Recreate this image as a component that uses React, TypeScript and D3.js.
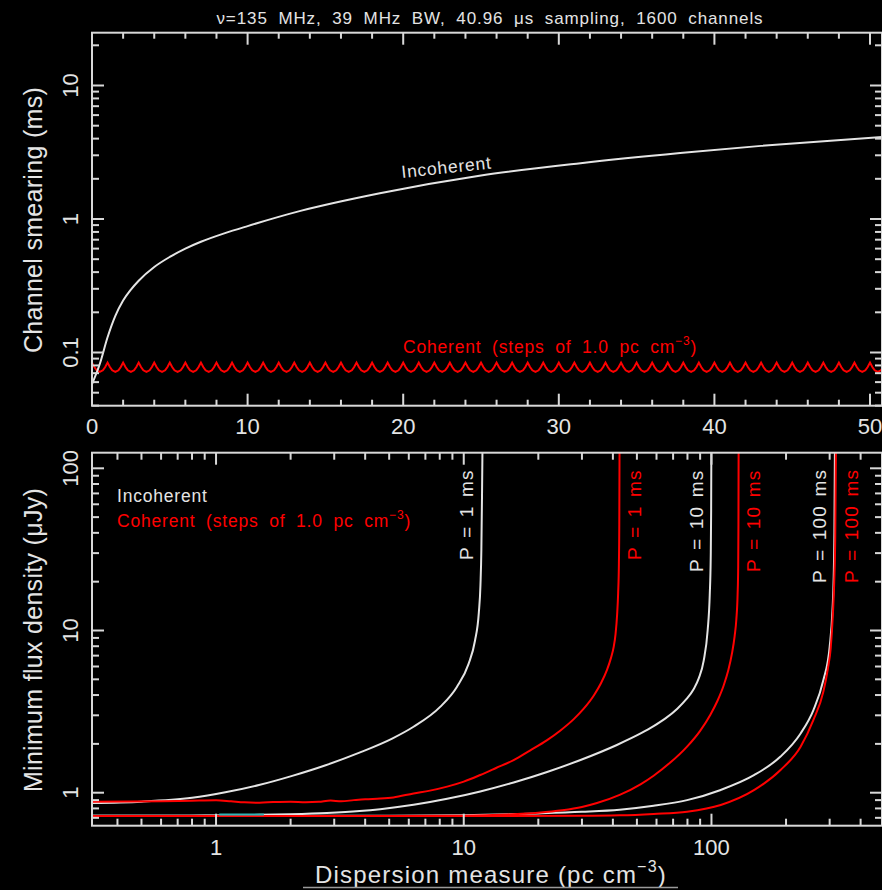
import React from 'react';
import * as d3 from 'd3';

const W = 882;
const H = 890;

// ---------- Top panel: channel smearing vs DM ----------
const topIncDM = [0, 0.5, 1, 1.5, 2, 2.5, 3, 4, 5, 6, 7, 8.5, 10, 13.4, 18.5, 25, 31.4, 37.8, 43, 50.8];
const topIncMs = [0.058, 0.082, 0.13, 0.188, 0.245, 0.296, 0.345, 0.437, 0.52, 0.6, 0.675, 0.78, 0.885, 1.15, 1.56, 2.12, 2.62, 3.12, 3.53, 4.12];
// coherent: one DM step of 1.0 pc cm^-3, repeated over the trial DMs
const cohStepStarts = [0,1,2,3,4,5,6,7,8,9,10,11,12,13,14,15,16,17,18,19,20,21,22,23,24,25,26,27,28,29,30,31,32,33,34,35,36,37,38,39,40,41,42,43,44,45,46,47,48,49,50];
const cohStepOffsets = [0, 0.15, 0.3, 0.5, 0.7, 0.85];
const cohStepMs = [0.084, 0.0779, 0.0736, 0.0715, 0.0736, 0.0779];
const topXTicks = [0, 10, 20, 30, 40, 50];
const topYTicks = [0.1, 1, 10];
const topYLabels = ['0.1', '1', '10'];

// ---------- Bottom panel: minimum flux density vs DM ----------
const wP1DM = [0.3157, 0.5, 0.8, 1.09, 1.49, 2.03, 2.77, 3.77, 5.14, 6.27, 8.03, 9.38, 10.45, 11.1, 11.5, 11.68, 11.78, 11.85, 11.9];
const wP1S = [0.865, 0.881, 0.93, 1.005, 1.115, 1.27, 1.477, 1.76, 2.156, 2.55, 3.38, 4.49, 6.2, 8.65, 12.8, 19.1, 31.8, 68, 130];
const rP1DM = [0.3157, 0.45, 0.6, 0.8, 1.0, 1.15, 1.3, 1.5, 1.7, 2.0, 2.3, 2.6, 2.9, 3.2, 3.6, 4.0, 4.6, 5.2, 6.27, 7.3, 8.57, 10, 11.66, 13.5, 15.9, 18.5, 21.7, 24.5, 27.8, 30.5, 33.5, 35.8, 37.9, 39.3, 40.3, 41.0, 41.6, 42.0, 42.3, 42.45, 42.55];
const rP1S = [0.88, 0.882, 0.885, 0.893, 0.898, 0.885, 0.872, 0.868, 0.875, 0.88, 0.872, 0.878, 0.895, 0.885, 0.9, 0.912, 0.92, 0.935, 0.99, 1.03, 1.09, 1.17, 1.286, 1.42, 1.59, 1.82, 2.11, 2.412, 2.842, 3.296, 3.976, 4.727, 5.735, 6.78, 7.92, 9.5, 12.5, 17, 26, 45, 130];
const wP10DM = [0.3157, 0.7, 1.0, 1.5, 2.0, 2.8, 3.8, 4.6, 6.27, 8.57, 11.66, 15.9, 21.7, 29.6, 41.5, 52, 58.4, 65, 72.8, 79, 84.7, 89, 93, 96.5, 98.4, 99.3, 99.7, 99.9];
const wP10S = [0.72, 0.72, 0.724, 0.73, 0.737, 0.75, 0.771, 0.792, 0.842, 0.917, 1.018, 1.156, 1.342, 1.591, 1.969, 2.326, 2.571, 2.861, 3.297, 3.758, 4.35, 5.1, 6.5, 10, 16.5, 28, 55, 130];
const rP10DM = [0.3157, 2, 5, 10, 15, 20, 25, 30, 34.5, 42.6, 51.9, 58.4, 68, 79.7, 90, 99, 106, 112, 117, 121, 124, 126, 127.5, 128.2, 128.5, 128.7];
const rP10S = [0.718, 0.718, 0.719, 0.722, 0.734, 0.753, 0.78, 0.817, 0.864, 0.97, 1.131, 1.273, 1.528, 1.924, 2.408, 3.028, 3.717, 4.58, 5.7, 7.22, 9.21, 11.7, 16.7, 24.6, 45, 130];
const wP100DM = [0.3157, 5, 10, 20, 30, 42.6, 58.4, 79.7, 109, 149, 190, 229, 258, 283, 300, 308, 311.5, 313.5, 315];
const wP100S = [0.72, 0.721, 0.726, 0.745, 0.762, 0.785, 0.83, 0.9, 1.04, 1.286, 1.67, 2.32, 3.23, 4.95, 7.93, 13.4, 21.5, 40, 130];
const rP100DM = [0.3157, 10, 30, 42.6, 58.4, 79.7, 109, 149, 190, 229, 258, 283, 295, 303, 309, 313, 316, 318];
const rP100S = [0.718, 0.718, 0.72, 0.725, 0.74, 0.764, 0.84, 1.04, 1.38, 1.92, 2.81, 4.2, 5.8, 7.8, 12.5, 20, 38, 130];
const cyanDM = [1.03, 1.56];
const cyanS = [0.733, 0.735];
const botXTicks = [1, 10, 100];
const botXLabels = ['1', '10', '100'];
const botYTicks = [1, 10, 100];
const botYLabels = ['1', '10', '100'];

const WHITE = '#e4e4e4';
const RED = '#ff0000';
const FONT = '"Liberation Sans", Arial, Helvetica, sans-serif';

const zip = (a: number[], b: number[]) => a.map((v, i) => [v, b[i]] as [number, number]);
const isDecade = (v: number) => Math.abs(Math.log10(v) - Math.round(Math.log10(v))) < 1e-6;

export default function App() {
  const tL = 92, tR = 882, tT = 32.7, tB = 405.7;
  const bL = 92, bR = 882, bT = 452.7, bB = 825.7;

  const xTop = d3.scaleLinear().domain([0, 50.77]).range([tL, tR]);
  const yTop = d3.scaleLog().domain([0.03995, 24.86]).range([tB, tT]);
  const xBot = d3.scaleLog().domain([0.3157, 488]).range([bL, bR]);
  const yBot = d3.scaleLog().domain([0.626, 124.8]).range([bB, bT]);

  const topLine = d3.line<[number, number]>()
    .x(d => xTop(d[0])).y(d => yTop(d[1]))
    .curve(d3.curveMonotoneX);
  const cohPts: [number, number][] = [];
  cohStepStarts.forEach(s => cohStepOffsets.forEach((o, i) => cohPts.push([s + o, cohStepMs[i]])));
  const cohLine = d3.line<[number, number]>().x(d => xTop(d[0])).y(d => yTop(d[1]));

  const botLine = d3.line<[number, number]>()
    .x(d => xBot(d[0])).y(d => yBot(d[1]))
    .curve(d3.curveMonotoneX);

  const MAJ = 12, MIN = 7;
  const ticks: JSX.Element[] = [];
  let k = 0;
  const tk = (x1: number, y1: number, x2: number, y2: number) =>
    ticks.push(<line key={k++} x1={x1} y1={y1} x2={x2} y2={y2} stroke="#d8d8d8" strokeWidth={2} />);

  d3.range(0, 51, 2).forEach(v => {
    const L = v % 10 === 0 ? MAJ : MIN - 1;
    const x = xTop(v);
    tk(x, tB, x, tB - L);
    tk(x, tT, x, tT + L);
  });
  yTop.ticks().forEach(v => {
    const L = isDecade(v) ? MAJ : MIN;
    const y = yTop(v);
    tk(tL, y, tL + L, y);
    tk(tR, y, tR - L, y);
  });
  xBot.ticks().forEach(v => {
    const L = isDecade(v) ? MAJ : MIN;
    const x = xBot(v);
    tk(x, bB, x, bB - L);
    tk(x, bT, x, bT + L);
  });
  yBot.ticks().forEach(v => {
    const L = isDecade(v) ? MAJ : MIN;
    const y = yBot(v);
    tk(bL, y, bL + L, y);
    tk(bR, y, bR - L, y);
  });

  const tickFont = { fontFamily: FONT, fontSize: 22, fill: WHITE } as const;
  const labelFont = { fontFamily: FONT, fontSize: 17.5, letterSpacing: 0.8, wordSpacing: 5 } as const;
  const pFont = { fontFamily: FONT, fontSize: 19, letterSpacing: 1.2, wordSpacing: 2 } as const;

  const pLabels = [
    { x: 473, y: 560, t: 'P = 1 ms', c: WHITE },
    { x: 641, y: 560, t: 'P = 1 ms', c: RED },
    { x: 703, y: 572, t: 'P = 10 ms', c: WHITE },
    { x: 760, y: 572, t: 'P = 10 ms', c: RED },
    { x: 826, y: 583, t: 'P = 100 ms', c: WHITE },
    { x: 858, y: 583, t: 'P = 100 ms', c: RED },
  ];

  return (
    <svg width={W} height={H} style={{ position: 'absolute', left: 0, top: 0, display: 'block' }}>
      <rect x={0} y={0} width={W} height={H} fill="#000" />
      <defs>
        <clipPath id="clipTop"><rect x={tL} y={tT} width={tR - tL} height={tB - tT} /></clipPath>
        <clipPath id="clipBot"><rect x={bL} y={bT} width={bR - bL} height={bB - bT} /></clipPath>
      </defs>

      <text x={490} y={24} textAnchor="middle" fontFamily={FONT} fontSize={17} fill={WHITE}
        letterSpacing={0.9} wordSpacing={5}>ν=135 MHz, 39 MHz BW, 40.96 μs sampling, 1600 channels</text>

      {/* ---------- top panel ---------- */}
      <g clipPath="url(#clipTop)">
        <path d={cohLine(cohPts) || ''} fill="none" stroke={RED} strokeWidth={2} />
        <path d={topLine(zip(topIncDM, topIncMs)) || ''} fill="none" stroke={WHITE} strokeWidth={2} />
      </g>
      <rect x={tL} y={tT} width={tR - tL} height={tB - tT} fill="none" stroke="#d8d8d8" strokeWidth={2} />
      {topXTicks.map(v => (
        <text key={'tx' + v} x={xTop(v)} y={434} textAnchor="middle" {...tickFont}>{v}</text>
      ))}
      {topYTicks.map((v, i) => (
        <text key={'ty' + v} transform={`translate(78,${yTop(v)}) rotate(-90)`} textAnchor="middle" {...tickFont}>{topYLabels[i]}</text>
      ))}
      <text transform="translate(42,220) rotate(-90)" textAnchor="middle" fontFamily={FONT} fontSize={25}
        letterSpacing={0.3} fill={WHITE}>Channel smearing (ms)</text>
      <text transform="translate(402,178) rotate(-6)" {...labelFont} fill={WHITE}>Incoherent</text>
      <text x={403} y={353} {...labelFont} fill={RED}>
        Coherent (steps of 1.0 pc cm<tspan dy={-8} fontSize={12}>−3</tspan><tspan dy={8}>)</tspan>
      </text>

      {/* ---------- bottom panel ---------- */}
      <g clipPath="url(#clipBot)" fill="none" strokeWidth={2}>
        <path d={botLine(zip(wP100DM, wP100S)) || ''} stroke={WHITE} />
        <path d={botLine(zip(wP10DM, wP10S)) || ''} stroke={WHITE} />
        <path d={botLine(zip(wP1DM, wP1S)) || ''} stroke={WHITE} />
        <path d={botLine(zip(rP100DM, rP100S)) || ''} stroke={RED} />
        <path d={botLine(zip(rP10DM, rP10S)) || ''} stroke={RED} />
        <path d={botLine(zip(rP1DM, rP1S)) || ''} stroke={RED} />
        <path d={botLine(zip(cyanDM, cyanS)) || ''} stroke="#2fb7b7" />
      </g>
      <rect x={bL} y={bT} width={bR - bL} height={bB - bT} fill="none" stroke="#d8d8d8" strokeWidth={2} />
      {botXTicks.map((v, i) => (
        <text key={'bx' + v} x={xBot(v)} y={855} textAnchor="middle" {...tickFont}>{botXLabels[i]}</text>
      ))}
      {botYTicks.map((v, i) => (
        <text key={'by' + v} transform={`translate(78,${yBot(v)}) rotate(-90)`} textAnchor="middle" {...tickFont}>{botYLabels[i]}</text>
      ))}
      <text transform="translate(42,640) rotate(-90)" textAnchor="middle" fontFamily={FONT} fontSize={25}
        letterSpacing={0.3} fill={WHITE}>Minimum flux density (μJy)</text>
      <text x={315} y={883} fontFamily={FONT} fontSize={24} letterSpacing={1.2} fill={WHITE}>
        Dispersion measure (pc cm<tspan dy={-11} fontSize={16}>−3</tspan><tspan dy={11}>)</tspan>
      </text>
      <line x1={303} y1={887.5} x2={678} y2={887.5} stroke="#9a9a9a" strokeWidth={1.5} />

      <text x={117} y={502} {...labelFont} fill={WHITE}>Incoherent</text>
      <text x={117} y={527} {...labelFont} fill={RED}>
        Coherent (steps of 1.0 pc cm<tspan dy={-8} fontSize={12}>−3</tspan><tspan dy={8}>)</tspan>
      </text>
      {pLabels.map((p, i) => (
        <text key={'p' + i} transform={`translate(${p.x},${p.y}) rotate(-90)`} {...pFont} fill={p.c}>{p.t}</text>
      ))}

      {ticks}
    </svg>
  );
}
